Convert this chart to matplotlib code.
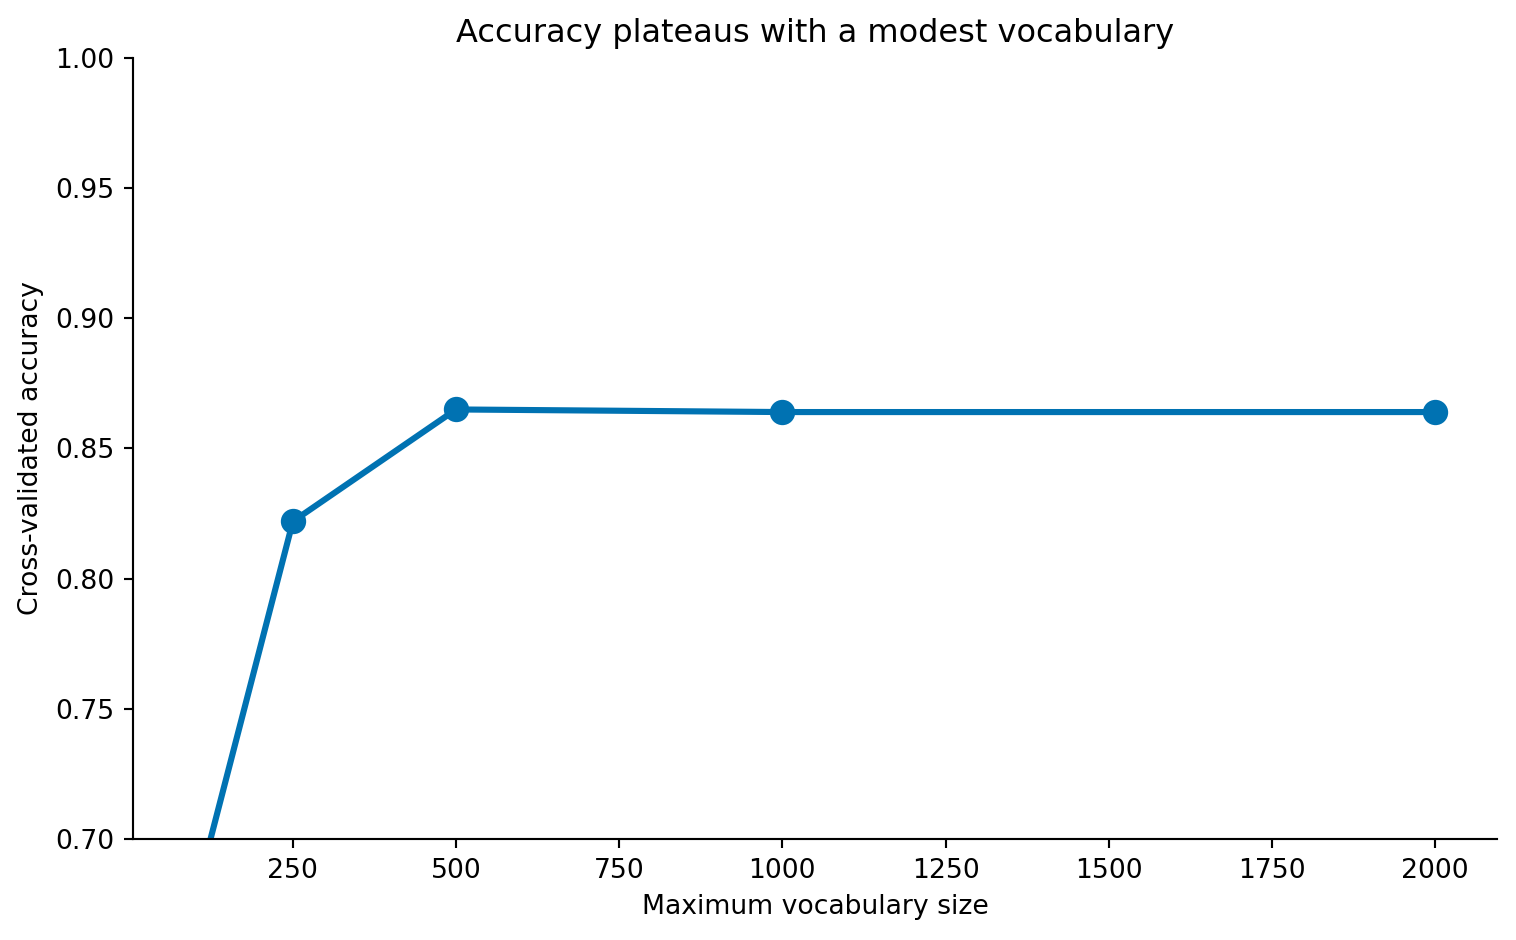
import matplotlib
matplotlib.use("Agg")
import matplotlib.pyplot as plt

vocab_sizes = [100, 250, 500, 1000, 2000]
accuracy = [0.677, 0.822, 0.865, 0.864, 0.864]

fig, ax = plt.subplots(figsize=(1516/192, 940/192), dpi=192)
ax.plot(vocab_sizes, accuracy, marker="o", color="#0072B2", linewidth=2.3, markersize=8.5)
ax.set_ylim(0.70, 1.00)
ax.set_xlabel("Maximum vocabulary size")
ax.set_ylabel("Cross-validated accuracy")
ax.set_title("Accuracy plateaus with a modest vocabulary")
ax.spines["top"].set_visible(False)
ax.spines["right"].set_visible(False)
fig.subplots_adjust(left=133/1516, right=1497/1516, top=1-58/940, bottom=1-839/940)
fig.savefig("out.png")
